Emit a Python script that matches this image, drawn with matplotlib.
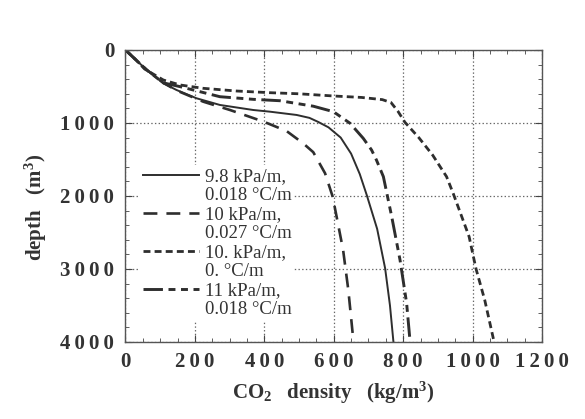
import matplotlib
matplotlib.use("Agg")
import matplotlib.pyplot as plt
from matplotlib.lines import Line2D
from matplotlib.ticker import MultipleLocator, FuncFormatter

plt.rcParams['font.family'] = ['Liberation Serif', 'DejaVu Serif']
plt.rcParams['mathtext.default'] = 'regular'
plt.rcParams['lines.scale_dashes'] = False

# 9.8 kPa/m, 0.018 C/m
rho_a = [0, 30, 61, 109, 147, 205, 272, 368, 416, 493, 530, 555, 585, 620, 650, 675, 695, 725, 748, 762, 772]
z_a = [0, 135, 274, 456, 548, 662, 753, 822, 845, 890, 930, 985, 1060, 1200, 1420, 1700, 1986, 2450, 2990, 3500, 4000]
# 10 kPa/m, 0.027 C/m
rho_b = [0, 30, 61, 109, 150, 224, 301, 397, 464, 512, 541, 575, 597, 627, 642, 654, 657]
z_b = [0, 135, 270, 450, 560, 708, 822, 980, 1110, 1279, 1400, 1689, 2010, 2740, 3288, 3858, 4000]
# 10. kPa/m, 0. C/m
rho_c = [0, 30, 55, 109, 157, 224, 320, 416, 500, 599, 680, 740, 765, 785, 805, 845, 885, 925, 944, 990, 1010, 1035, 1062]
z_c = [0, 135, 260, 411, 479, 525, 562, 585, 600, 630, 650, 680, 720, 840, 990, 1200, 1440, 1735, 1963, 2557, 3000, 3425, 4000]
# 11 kPa/m, 0.018 C/m
rho_d = [0, 30, 61, 109, 157, 272, 368, 445, 541, 599, 647, 685, 709, 723, 743, 767, 791, 810, 820]
z_d = [0, 135, 274, 450, 502, 640, 676, 695, 770, 845, 1004, 1210, 1370, 1507, 1735, 2283, 2877, 3470, 4000]

labels = [('9.8 kPa/m,', '0.018 °C/m'), ('10 kPa/m,', '0.027 °C/m'),
          ('10. kPa/m,', '0. °C/m'), ('11 kPa/m,', '0.018 °C/m')]

fig = plt.figure(figsize=(5.85, 4.19), dpi=100)
ax = fig.add_axes([0.2145, 0.1838, 0.712, 0.6969])
c = '#2e2e2e'
la, = ax.plot(rho_a, z_a, color=c, lw=1.4)
lb, = ax.plot(rho_b, z_b, color=c, lw=1.9, dashes=(10, 6.5))
lc, = ax.plot(rho_c, z_c, color=c, lw=2.0, dashes=(5, 3))
ld, = ax.plot(rho_d, z_d, color=c, lw=2.1, dashes=(14, 4, 5, 4, 5, 4))

ax.set_xlim(0, 1200)
ax.set_ylim(4000, 0)
ax.xaxis.set_major_locator(MultipleLocator(200))
ax.xaxis.set_minor_locator(MultipleLocator(50))
ax.yaxis.set_major_locator(MultipleLocator(1000))
ax.yaxis.set_minor_locator(MultipleLocator(200))
spaced = FuncFormatter(lambda v, p: '\u2009'.join(str(int(round(v)))))
ax.xaxis.set_major_formatter(spaced)
ax.yaxis.set_major_formatter(spaced)
ax.tick_params(which='both', direction='in', top=True, right=True, color='#444')
ax.tick_params(which='major', length=5, labelsize=15)
ax.tick_params(axis='x', pad=7)
ax.tick_params(axis='y', pad=8)
ax.tick_params(which='minor', length=3)
for t in ax.get_xticklabels() + ax.get_yticklabels():
    t.set_fontweight('bold')
    t.set_color('#333')
ax.grid(True, which='major', linestyle=':', color='#666', lw=0.9)
for s in ax.spines.values():
    s.set_color('#555')
    s.set_linewidth(1.0)

ax.set_xlabel('CO$_2$   density   (kg/m$^3$)', fontsize=15, fontweight='bold', color='#333', labelpad=6)
ax.set_ylabel('depth   (m$^3$)', fontsize=15, fontweight='bold', color='#333')
ax.yaxis.set_label_coords(-0.183, 0.46)

blank = Line2D([], [], alpha=0)
handles, texts = [], []
for h, (l1, l2) in zip([la, lb, lc, ld], labels):
    handles += [h, blank]
    texts += [l1, l2]
leg = ax.legend(handles, texts, loc='upper left', bbox_to_anchor=(0.035, 0.605), frameon=True,
                fontsize=13.5, handlelength=3.0, handletextpad=0.3, labelspacing=0.1,
                borderpad=0.15, borderaxespad=0.0, labelcolor='#333')
leg.get_frame().set_edgecolor('none')
leg.get_frame().set_facecolor('white')
leg.get_frame().set_alpha(1.0)

fig.savefig('out.png', dpi=100, facecolor='white')
